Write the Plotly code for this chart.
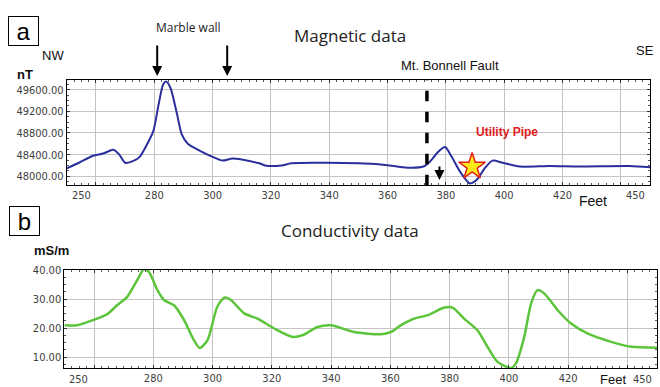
import plotly.graph_objects as go

# ---- data ----
mag_x = [250, 254.5, 259, 262.5, 266, 268, 270, 273, 275, 277.6, 279.7, 281.5, 283, 284, 285.5,
         287.8, 289.4, 291.5, 295.5, 300, 303.4, 306.8, 310, 316, 318, 323.6, 327, 339, 357.6,
         366.8, 372.3, 374.5, 377.3, 379.7, 382, 384.8, 388.2, 390.5, 393.3, 396, 399.5, 405.3,
         415.6, 425.8, 443, 450]
mag_y = [48145, 48260, 48380, 48420, 48490, 48400, 48250, 48290, 48360, 48600, 48840, 49330,
         49690, 49750, 49640, 49150, 48780, 48600, 48475, 48360, 48290, 48330, 48310, 48240,
         48200, 48200, 48240, 48250, 48220, 48160, 48180, 48270, 48450, 48540, 48360, 48090,
         47870, 47930, 48145, 48290, 48250, 48180, 48190, 48180, 48190, 48165]

cond_x = [250, 254.2, 261, 264.4, 267.8, 271.2, 274.6, 276.8, 278.5, 281.4, 283.6, 287, 290.4,
          293.7, 295.7, 298.3, 301.6, 304.1, 306.2, 310.7, 315.2, 320.8, 327, 330.4, 335.4,
          340, 347.8, 356.8, 360.2, 363.5, 368, 372.6, 378.2, 381, 384.9, 389.4, 392.8, 396.2,
          400.7, 402.4, 405.2, 407.5, 409.7, 412, 416.5, 421, 426.7, 434.5, 441.3, 450]
cond_y = [21.0, 21.0, 23.3, 24.8, 27.9, 30.8, 36.6, 40.3, 39.4, 33.1, 29.7, 27.9, 22.8, 15.9,
          13.2, 15.9, 27.4, 30.6, 29.7, 25.1, 23.3, 19.9, 17.0, 17.6, 20.4, 21.0, 18.7, 17.9,
          18.7, 21.0, 23.3, 24.5, 27.1, 27.1, 23.3, 19.3, 13.6, 8.4, 6.3, 7.9, 17.0, 28.5, 33.1,
          31.9, 26.2, 21.6, 18.1, 15.3, 13.6, 13.3]

x_grid = [260, 280, 300, 320, 340, 360, 380, 400, 420, 440]
x_text = ["", "280", "300", "320", "340", "360", "380", "400", "420", ""]
mag_ticks = [48000, 48400, 48800, 49200, 49600]
cond_ticks = [10, 20, 30, 40]

fault_x = 373.5
fault_arrow_x = 377.8
marble_arrows_x = [281, 305]
pipe_x, pipe_y = 389, 48180

W, H = 660, 387
def px(x): return x / W
def py(y): return 1 - y / H

tickfont = dict(family="Liberation Sans Narrow, Arial Narrow, DejaVu Sans Condensed, sans-serif",
                size=11, color="#404040")
textfont = "Liberation Sans, Arial, sans-serif"
titlefont = "Open Sans, Noto Sans, sans-serif"

fig = go.Figure()
fig.add_trace(go.Scatter(x=mag_x, y=mag_y, mode="lines", line=dict(color="#2a2f9c", width=2, shape="spline", smoothing=0.7),
                         xaxis="x", yaxis="y", hoverinfo="skip"))
fig.add_trace(go.Scatter(x=[fault_x, fault_x], y=[47836, 49782], mode="lines",
                         line=dict(color="black", width=3.5, dash="dash"), xaxis="x", yaxis="y"))
fig.add_trace(go.Scatter(x=[pipe_x], y=[pipe_y], mode="markers",
                         marker=dict(symbol="star", size=20, color="#ffe81a", line=dict(color="#e0201a", width=1.5)),
                         xaxis="x", yaxis="y"))
fig.add_trace(go.Scatter(x=cond_x, y=cond_y, mode="lines", line=dict(color="#5cc43a", width=2.5, shape="spline", smoothing=0.7),
                         xaxis="x2", yaxis="y2"))

axis_common = dict(showline=True, linecolor="black", linewidth=1, mirror="allticks",
                   showgrid=True, gridcolor="#c4c4c4", gridwidth=1, zeroline=False,
                   ticks="inside", ticklen=3, tickcolor="#333", tickfont=tickfont)

fig.update_layout(
    width=W, height=H, margin=dict(l=0, r=0, t=0, b=0),
    paper_bgcolor="white", plot_bgcolor="white", showlegend=False,
    xaxis=dict(domain=[px(66.8), px(650)], range=[250, 450], anchor="y",
               tickmode="array", tickvals=x_grid, ticktext=x_text,
               minor=dict(ticks="inside", dtick=2.5, tick0=250, ticklen=2, tickcolor="#555", showgrid=False),
               **axis_common),
    yaxis=dict(domain=[py(182), py(75)], range=[47836, 49782], anchor="x",
               tickmode="array", tickvals=mag_ticks, ticktext=[f"{v}.00" for v in mag_ticks],
               minor=dict(ticks="inside", dtick=100, ticklen=2, tickcolor="#555", showgrid=False),
               **axis_common),
    xaxis2=dict(domain=[px(64.4), px(657)], range=[250, 450], anchor="y2",
                tickmode="array", tickvals=x_grid, ticktext=x_text,
                minor=dict(ticks="inside", dtick=2.5, tick0=250, ticklen=2, tickcolor="#555", showgrid=False),
                **axis_common),
    yaxis2=dict(domain=[py(368), py(268)], range=[6.2, 40.1], anchor="x2",
                tickmode="array", tickvals=cond_ticks, ticktext=[f"{v}.00" for v in cond_ticks],
                minor=dict(ticks="inside", dtick=2.5, ticklen=2, tickcolor="#555", showgrid=False),
                **axis_common),
)

ann = []
def txt(x, y, s, size=13, color="#111", family=textfont, **kw):
    ann.append(dict(x=px(x), y=py(y), xref="paper", yref="paper", text=s, showarrow=False,
                    xanchor="center", yanchor="middle",
                    font=dict(size=size, color=color, family=family), **kw))

# edge tick labels
for ax_, yy in (("x", 192), ("x2", 379)):
    ann.append(dict(x=250, y=py(yy), xref=ax_, yref="paper", text="250", showarrow=False,
                    xanchor="left", yanchor="middle", xshift=3, font=tickfont))
    ann.append(dict(x=450, y=py(yy), xref=ax_, yref="paper", text="450", showarrow=False,
                    xanchor="right", yanchor="middle", xshift=-3, font=tickfont))

txt(23.5, 25, "a", size=24, family="Liberation Sans Narrow, Arial Narrow, sans-serif", color="black",
    bordercolor="black", borderwidth=1, borderpad=0, width=29, height=28)
txt(24.5, 218.5, "b", size=24, family="Liberation Sans Narrow, Arial Narrow, sans-serif", color="black",
    bordercolor="black", borderwidth=1, borderpad=0, width=29, height=28)
txt(350, 30, "Magnetic data", size=17, family=titlefont, color="#222")
txt(350, 228, "Conductivity data", size=17, family=titlefont, color="#222")
txt(188, 22, "Marble wall", size=12, family=titlefont, color="#222")
txt(53, 50, "NW", size=13)
txt(645, 45, "SE", size=13)
txt(25, 70, "<b>nT</b>", size=13)
txt(51, 248, "<b>mS/m</b>", size=13)
txt(450, 60, "Mt. Bonnell Fault", size=13)
txt(507, 128, "<b>Utility Pipe</b>", size=12, color="#e02020")
txt(593, 198, "Feet", size=14)
txt(613, 379, "Feet", size=13)

# arrows
for mx in marble_arrows_x:
    ann.append(dict(x=mx, y=py(71), xref="x", yref="paper", text="", showarrow=True,
                    ax=0, ay=-32, arrowhead=2, arrowsize=1, arrowwidth=2, arrowcolor="black"))
ann.append(dict(x=fault_arrow_x, y=47930, xref="x", yref="y", text="", showarrow=True,
                ax=0, ay=-15, arrowhead=2, arrowsize=1, arrowwidth=2, arrowcolor="black"))

fig.update_layout(annotations=ann)
fig.write_html("out.html")
